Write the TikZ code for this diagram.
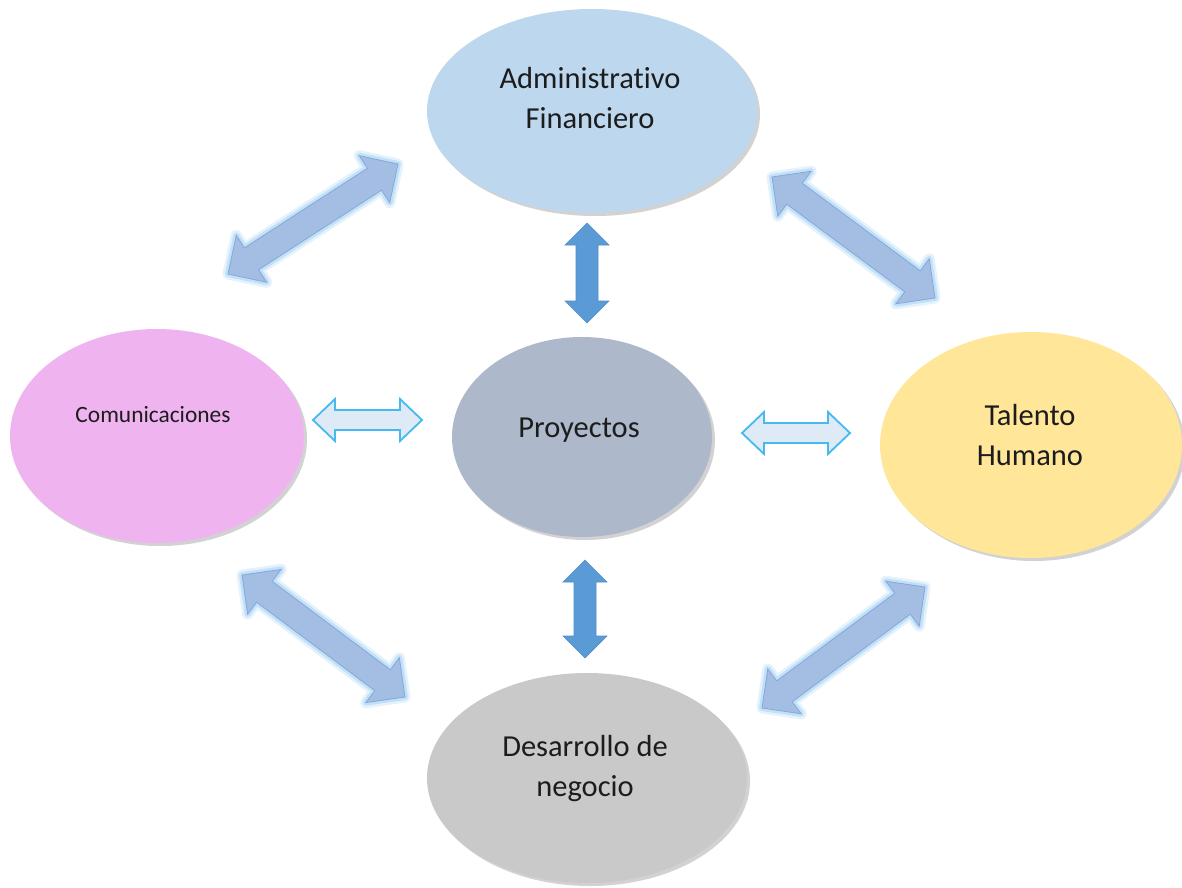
\documentclass[tikz,border=0pt]{standalone}
\usepackage{fontspec}
\setmainfont{Carlito}[Ligatures=NoCommon]
\usepackage{xcolor}
\usepackage{tikz}
\usetikzlibrary{calc}
\usetikzlibrary{shapes.geometric}
\usetikzlibrary{shadows}

\definecolor{admcol}{HTML}{BDD7EE}
\definecolor{comcol}{HTML}{EFB4F0}
\definecolor{procol}{HTML}{ADB9CA}
\definecolor{talcol}{HTML}{FFE699}
\definecolor{descol}{HTML}{C9C9C9}
\definecolor{vfill}{HTML}{5B9BD5}
\definecolor{vedge}{HTML}{4F8DC9}
\definecolor{hfill}{HTML}{DEEBF7}
\definecolor{hedge}{HTML}{45B9F0}
\definecolor{dfill}{HTML}{A4BDE3}
\definecolor{dedge}{HTML}{86A7D8}
\definecolor{glow}{HTML}{A9D6F7}
\definecolor{txtcol}{HTML}{1C1C1C}

\tikzstyle{area} = [ellipse, draw=none, inner sep=0pt,
  drop shadow={shadow xshift=3pt, shadow yshift=-3pt, opacity=0.25, fill=black!70}]
\tikzstyle{areatext} = [align=center, text=txtcol, font=\fontsize{30.5}{40}\selectfont]
\tikzstyle{varrow} = [fill=vfill, draw=vedge, line width=0.6pt, line join=miter]
\tikzstyle{harrow} = [fill=hfill, draw=hedge, line width=1.8pt, line join=miter]
\tikzstyle{darrow} = [fill=dfill, draw=dedge, line width=0.8pt, line join=miter,
  preaction={draw=glow, line width=11pt, opacity=0.3, line join=round},
  preaction={draw=glow, line width=6pt, opacity=0.6, line join=round}]

% block arrow with two heads: style, from, to, half shaft, half head, head length
\newcommand{\dblarrow}[6]{%
  \coordinate (da1) at ($(#2)!#6!(#3)$);
  \coordinate (da2) at ($(#3)!#6!(#2)$);
  \draw[#1] (#2) -- ($(da1)!#5!-90:(#3)$) -- ($(da1)!#4!-90:(#3)$)
    -- ($(da2)!#4!90:(#2)$) -- ($(da2)!#5!90:(#2)$) -- (#3)
    -- ($(da2)!#5!-90:(#2)$) -- ($(da2)!#4!-90:(#2)$)
    -- ($(da1)!#4!90:(#3)$) -- ($(da1)!#5!90:(#3)$) -- cycle;
}

\begin{document}
\begin{tikzpicture}[x=1pt, y=-1pt]
\fill[white] (0,0) rectangle (1182,887);
\useasboundingbox (0,0) rectangle (1182,887);

% areas
\node [area, fill=admcol, minimum width=330pt, minimum height=204pt] (adm) at (592,111) {};
\node [area, fill=comcol, minimum width=294pt, minimum height=214pt] (com) at (157,436) {};
\node [area, fill=procol, minimum width=260pt, minimum height=200pt] (pro) at (582,437) {};
\node [area, fill=talcol, minimum width=302pt, minimum height=226pt] (tal) at (1031,445) {};
\node [area, fill=descol, minimum width=320pt, minimum height=210pt] (des) at (587,778) {};

\node [areatext] (admtext) at (590,98) {Administrativo\\Financiero};
\node [areatext, font=\fontsize{23.4}{28}\selectfont] (comtext) at (153,415) {Comunicaciones};
\node [areatext] (protext) at (579,430) {Proyectos};
\node [areatext] (taltext) at (1030,435) {Talento\\Humano};
\node [areatext] (destext) at (585,769) {Desarrollo de\\negocio};

% arrow ends
\coordinate (v1a) at (587,223);
\coordinate (v1b) at (587,323);
\coordinate (v2a) at (585,560);
\coordinate (v2b) at (585,658);
\coordinate (h1a) at (313,420);
\coordinate (h1b) at (422,420);
\coordinate (h2a) at (742,433);
\coordinate (h2b) at (850,433);
\coordinate (d1a) at (228,274);
\coordinate (d1b) at (398,164);
\coordinate (d2a) at (772,177);
\coordinate (d2b) at (935,298);
\coordinate (d3a) at (242,575);
\coordinate (d3b) at (405,697);
\coordinate (d4a) at (762,708);
\coordinate (d4b) at (925,587);

\dblarrow{varrow}{v1a}{v1b}{11pt}{22pt}{22pt}
\dblarrow{varrow}{v2a}{v2b}{11pt}{22pt}{22pt}
\dblarrow{harrow}{h1a}{h1b}{10pt}{21pt}{22pt}
\dblarrow{harrow}{h2a}{h2b}{10pt}{21pt}{22pt}
\dblarrow{darrow}{d1a}{d1b}{13pt}{28pt}{28pt}
\dblarrow{darrow}{d2a}{d2b}{13pt}{28pt}{28pt}
\dblarrow{darrow}{d3a}{d3b}{13pt}{28pt}{28pt}
\dblarrow{darrow}{d4a}{d4b}{13pt}{28pt}{28pt}
\end{tikzpicture}
\end{document}
